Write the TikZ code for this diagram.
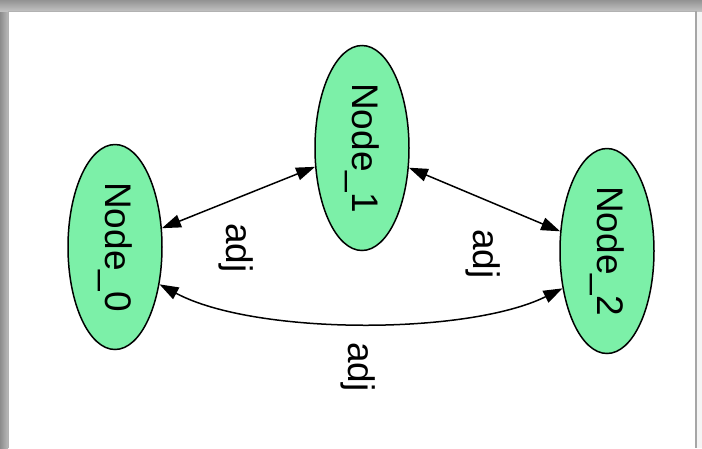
\documentclass[tikz,border=0pt]{standalone}
\usepackage{fontspec}
\setmainfont{Liberation Sans}
\usetikzlibrary{arrows.meta,shapes.geometric}
\definecolor{nodegreen}{RGB}{124,240,168}
\begin{document}
\begin{tikzpicture}[x=1pt,y=-1pt,
  graphnode/.style={ellipse,draw=black,line width=1.5pt,fill=nodegreen,
    minimum width=94pt,minimum height=205pt,inner sep=0pt,
    font=\fontsize{37}{40}\selectfont},
  edgelabel/.style={rotate=-90,font=\fontsize{37}{40}\selectfont,inner sep=0pt},
  link/.style={line width=1.5pt,{Triangle[length=19pt,width=13pt]}-{Triangle[length=19pt,width=13pt]}}]
\useasboundingbox (0,0) rectangle (702,448);
% window frame and shadow
\shade[top color=gray!85,bottom color=gray!45] (0,0) rectangle (702,12);
\shade[left color=gray!90,right color=gray!55] (0,12) rectangle (8,448);
\fill[gray!8] (697,12) rectangle (702,448);
\fill[white] (8,11) rectangle (695,448);
\draw[gray!60,line width=1pt] (8,448) -- (8,11) -- (695,11);
\draw[gray!70,line width=2pt] (696,11) -- (696,448);
% nodes
\node[graphnode] (n0) at (115,247) {\rotatebox[origin=c]{-90}{Node\_0}};
\node[graphnode] (n1) at (362,148) {\rotatebox[origin=c]{-90}{Node\_1}};
\node[graphnode] (n2) at (607,251) {\rotatebox[origin=c]{-90}{Node\_2}};
% edges
\draw[link] (n0) -- (n1);
\draw[link] (n1) -- (n2);
\draw[link] (n0.-40) .. controls +(95,51) and +(-95,47) .. (n2.-140);
% labels
\node[edgelabel] (l01) at (236,248) {adj};
\node[edgelabel] (l12) at (483,254) {adj};
\node[edgelabel] (l02) at (358,367) {adj};
\end{tikzpicture}
\end{document}
